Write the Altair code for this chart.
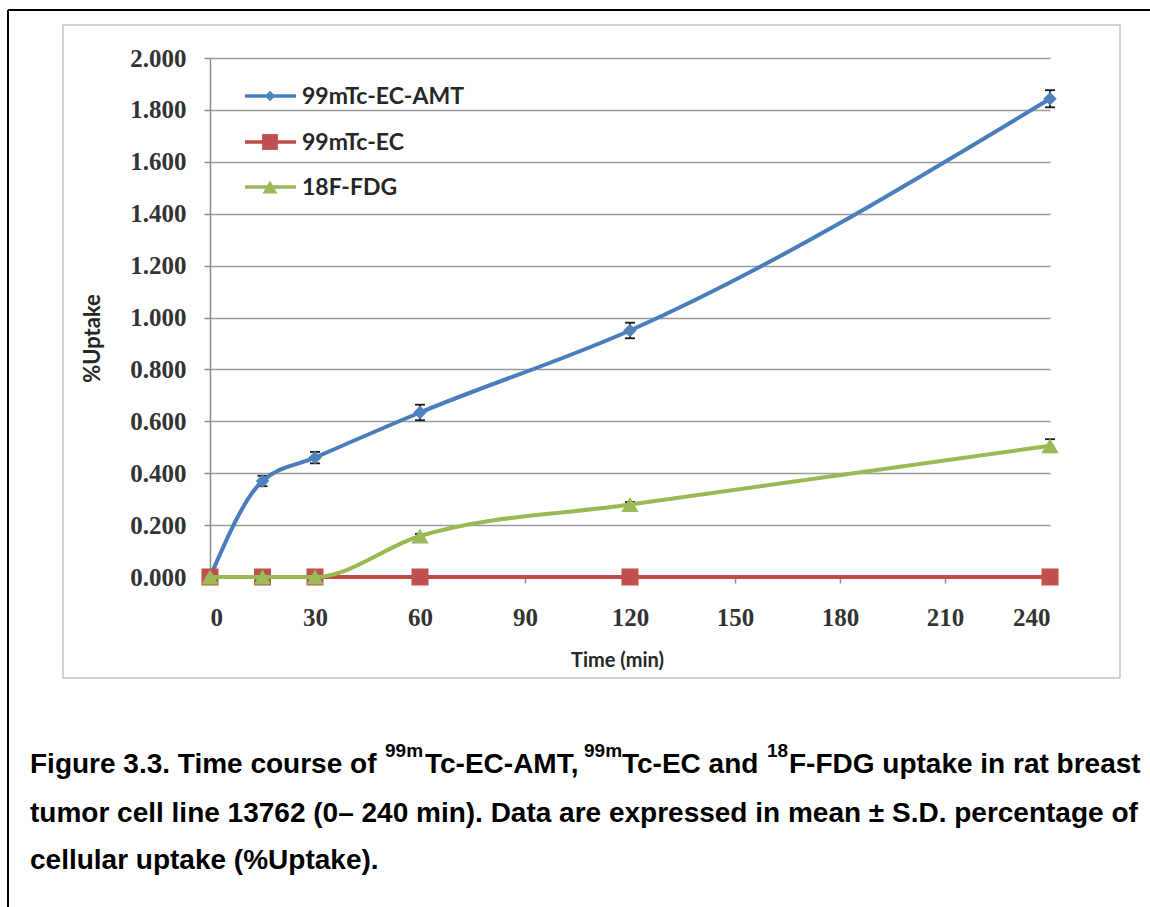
import altair as alt
import pandas as pd

# ---- data ----
time_min = [0, 15, 30, 60, 120, 240]
amt_mean = [0.000, 0.370, 0.460, 0.634, 0.950, 1.843]
amt_sd = [0.000, 0.020, 0.022, 0.030, 0.030, 0.033]
ec_mean = [0.000, 0.000, 0.000, 0.000, 0.000, 0.000]
ec_sd = [0.000, 0.000, 0.000, 0.000, 0.000, 0.000]
fdg_mean = [0.000, 0.000, 0.000, 0.158, 0.279, 0.506]
fdg_sd = [0.000, 0.000, 0.000, 0.008, 0.010, 0.025]

series_names = ["99mTc-EC-AMT", "99mTc-EC", "18F-FDG"]
series_means = [amt_mean, ec_mean, fdg_mean]
series_sds = [amt_sd, ec_sd, fdg_sd]
line_colors = ["#4A7EBB", "#BE4B48", "#98B954"]
marker_colors = ["#4F81BD", "#C0504D", "#9BBB59"]
marker_shapes = ["diamond", "square", "triangle-up"]
marker_sizes = [180, 290, 300]

x_ticks = [0, 30, 60, 90, 120, 150, 180, 210, 240]
y_ticks = [0.0, 0.2, 0.4, 0.6, 0.8, 1.0, 1.2, 1.4, 1.6, 1.8, 2.0]

X = alt.X("t:Q", scale=alt.Scale(domain=[0, 240], nice=False, zero=False),
          axis=alt.Axis(values=x_ticks, title="Time (min)", grid=False))


def Y(field):
    return alt.Y(field, scale=alt.Scale(domain=[0, 2], nice=False),
                 axis=alt.Axis(values=y_ticks, format=".3f", title="%Uptake", grid=True))


one = pd.DataFrame({"d": [0]})
layers = []

# ---- frames ----
layers.append(alt.Chart(one).mark_rect(fillOpacity=0, stroke="#c4c4c4", strokeWidth=1.5).encode(
    x=alt.value(-147), x2=alt.value(910), y=alt.value(-33), y2=alt.value(620)))
layers.append(alt.Chart(one).mark_rule(color="#000000", strokeWidth=2).encode(
    x=alt.value(-202), y=alt.value(-48), y2=alt.value(860)))
layers.append(alt.Chart(one).mark_rule(color="#000000", strokeWidth=2).encode(
    x=alt.value(-202), x2=alt.value(950), y=alt.value(-48)))

# ---- series ----
for name, m, sd, lc, mc, shp, sz in zip(series_names, series_means, series_sds,
                                        line_colors, marker_colors, marker_shapes, marker_sizes):
    df = pd.DataFrame({"t": time_min, "v": m, "sd": sd})
    df["lo"] = df["v"] - df["sd"]
    df["hi"] = df["v"] + df["sd"]
    eb = df[df["sd"] > 0]
    if len(eb):
        base_eb = alt.Chart(eb)
        layers.append(base_eb.mark_rule(color="#1a1a1a", strokeWidth=1.8).encode(
            x=X, y=Y("lo:Q"), y2="hi:Q"))
        layers.append(base_eb.mark_rule(color="#1a1a1a", strokeWidth=1.8, xOffset=-5, x2Offset=5).encode(
            x=X, x2="t:Q", y=Y("hi:Q")))
        layers.append(base_eb.mark_rule(color="#1a1a1a", strokeWidth=1.8, xOffset=-5, x2Offset=5).encode(
            x=X, x2="t:Q", y=Y("lo:Q")))
    base = alt.Chart(df)
    layers.append(base.mark_line(interpolate="monotone", strokeWidth=4, color=lc).encode(
        x=X, y=Y("v:Q")))
    layers.append(base.mark_point(filled=True, shape=shp, size=sz, color=mc, opacity=1).encode(
        x=X, y=Y("v:Q")))

# ---- legend (inside plot, top-left) ----
legend_y = [38, 84, 129]
legend_sizes = [110, 250, 220]
for name, lc, mc, shp, ly, lsz in zip(series_names, line_colors, marker_colors, marker_shapes,
                                      legend_y, legend_sizes):
    layers.append(alt.Chart(one).mark_rule(color=lc, strokeWidth=3.5).encode(
        x=alt.value(35), x2=alt.value(86), y=alt.value(ly)))
    layers.append(alt.Chart(one).mark_point(filled=True, shape=shp, size=lsz, color=mc, opacity=1).encode(
        x=alt.value(60), y=alt.value(ly)))
    layers.append(alt.Chart(one).mark_text(align="left", baseline="middle", font="Lato",
                                           fontWeight="bold", fontSize=23, color="#262626").encode(
        x=alt.value(92), y=alt.value(ly + 1), text=alt.value(name)))

# ---- caption with superscripts ----
OX, OY = 210, 58
cap_font = "Liberation Sans"
main_segments = [
    ("Figure 3.3. Time course of", 30, 773),
    ("Tc-EC-AMT,", 425, 773),
    ("Tc-EC and", 622, 773),
    ("F-FDG uptake in rat breast", 789, 773),
    ("tumor cell line 13762 (0\u2013 240 min). Data are expressed in mean \u00b1 S.D. percentage of", 30, 822),
    ("cellular uptake (%Uptake).", 30, 869),
]
sup_segments = [("99m", 385, 757), ("99m", 584, 757), ("18", 767, 757)]
for txt, px, py in main_segments:
    layers.append(alt.Chart(one).mark_text(align="left", baseline="alphabetic", font=cap_font,
                                           fontWeight="bold", fontSize=28, color="#000000").encode(
        x=alt.value(px - OX), y=alt.value(py - OY), text=alt.value(txt)))
for txt, px, py in sup_segments:
    layers.append(alt.Chart(one).mark_text(align="left", baseline="alphabetic", font=cap_font,
                                           fontWeight="bold", fontSize=19, color="#000000").encode(
        x=alt.value(px - OX), y=alt.value(py - OY), text=alt.value(txt)))

chart = alt.layer(*layers).properties(
    width=840, height=519,
    autosize=alt.AutoSizeParams(type="none"),
    padding={"left": 210, "top": 58, "right": 100, "bottom": 330},
    background="#ffffff",
).configure_view(stroke=None).configure_axis(
    labelFont="Liberation Serif", labelFontWeight="bold", labelFontSize=25, labelColor="#333333",
    titleFont="Lato", titleFontWeight="bold", titleColor="#262626",
    domainColor="#8c8c8c", domainWidth=1.5, tickColor="#8c8c8c", tickWidth=1.5, tickSize=6,
    gridColor="#9a9a9a", gridWidth=1.5,
).configure_axisX(
    labelPadding=22, titleFontSize=20, titleX=407, titleY=83, titleBaseline="middle", titleAlign="center",
).configure_axisY(
    labelPadding=18, titleFontSize=22, titleX=-118, titleY=280, titleBaseline="middle", titleAlign="center",
    titleAngle=270,
)

chart.save("out.html", embed_options={"renderer": "svg", "actions": False})
